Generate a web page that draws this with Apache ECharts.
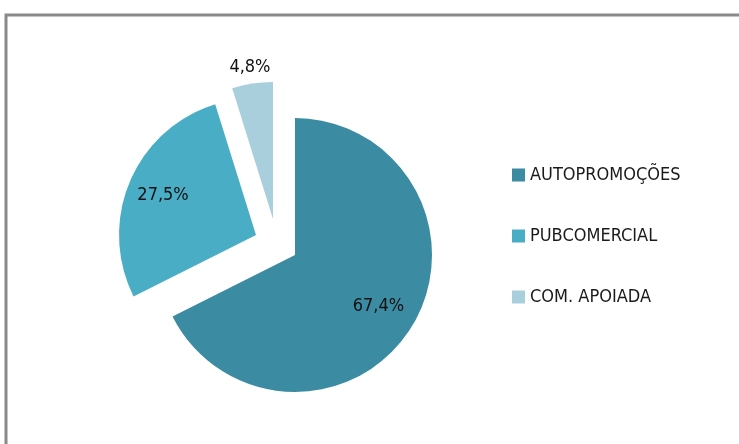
<!DOCTYPE html>
<html>
<head>
<meta charset="utf-8">
<script src="https://cdn.jsdelivr.net/npm/echarts@6/dist/echarts.min.js"></script>
<style>
html, body { margin: 0; padding: 0; background: #fff; }
#chart { width: 739px; height: 444px; }
</style>
</head>
<body>
<div id="chart"></div>
<script>
// 数据
var categories = ['AUTOPROMOÇÕES', 'PUBCOMERCIAL', 'COM. APOIADA'];
var values = [67.4, 27.5, 4.8];
var colors = ['#3b8ba2', '#4aadc6', '#a9cfdd'];

// 每个扇区的偏移（分离效果）和标签半径
var cx = 295, cy = 255;
var sliceOffset = [[0, 0], [-39, -20], [-22, -36]];
var labelDist = [98, 101, 153];
var font = '"DejaVu Sans Condensed", "Liberation Sans Narrow", sans-serif';

var transparent = 'rgba(0,0,0,0)';

// 每个扇区一个系列，其余扇区透明
function sliceSeries(k) {
    var ox = cx + sliceOffset[k][0];
    var oy = cy + sliceOffset[k][1];
    return {
        type: 'pie',
        center: [ox, oy],
        radius: 137,
        startAngle: 90,
        clockwise: true,
        silent: true,
        emphasis: { disabled: true },
        label: {
            position: 'inside',
            fontFamily: font,
            fontSize: 18,
            color: '#111',
            formatter: function (p) {
                return p.value.toFixed(1).replace('.', ',') + '%';
            }
        },
        labelLine: { show: false },
        labelLayout: function (p) {
            var r = p.labelRect;
            var lx = r.x + r.width / 2 - ox;
            var ly = r.y + r.height / 2 - oy;
            var len = Math.sqrt(lx * lx + ly * ly) || 1;
            var d = labelDist[k];
            return {
                x: ox + lx / len * d,
                y: oy + ly / len * d,
                align: 'center',
                verticalAlign: 'middle'
            };
        },
        data: categories.map(function (name, i) {
            return {
                name: name,
                value: values[i],
                itemStyle: { color: i === k ? colors[i] : transparent },
                label: { show: i === k }
            };
        })
    };
}

var chart = echarts.init(document.getElementById('chart'));
chart.setOption({
    animation: false,
    graphic: [
        {
            type: 'rect',
            shape: { x: 6, y: 15, width: 800, height: 500 },
            style: { fill: 'none', stroke: '#8a8a8a', lineWidth: 3 },
            silent: true
        }
    ],
    legend: {
        orient: 'vertical',
        left: 512,
        top: 165,
        padding: 0,
        icon: 'rect',
        itemWidth: 13,
        itemHeight: 13,
        itemGap: 41,
        selectedMode: false,
        data: categories.map(function (name, i) {
            return { name: name, itemStyle: { color: colors[i] } };
        }),
        textStyle: {
            fontFamily: font,
            fontSize: 18,
            color: '#1a1a1a',
            lineHeight: 20
        }
    },
    series: [sliceSeries(0), sliceSeries(1), sliceSeries(2)]
});
</script>
</body>
</html>
